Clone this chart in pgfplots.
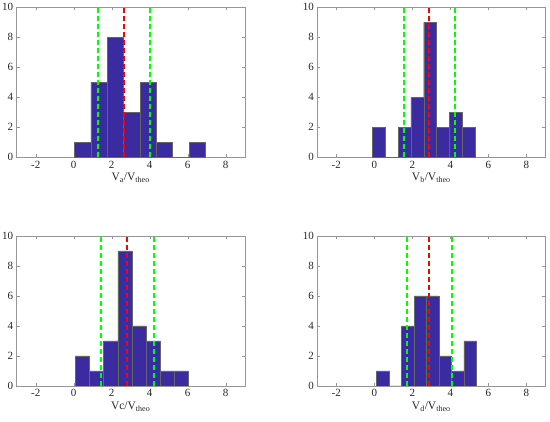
\documentclass[border=0pt]{standalone}
\usepackage{pgfplots}
\pgfplotsset{compat=1.18}
\usepackage{fontspec}
\setmainfont{Liberation Serif}
\definecolor{barblue}{RGB}{58,43,160}
\definecolor{axgray}{RGB}{38,38,38}
\definecolor{lingray}{RGB}{150,150,150}
\definecolor{mgreen}{RGB}{0,255,0}
\definecolor{mred}{RGB}{255,0,0}
\tikzset{
  redl/.style={draw=mred, line width=2pt, dash pattern=on 5pt off 3pt},
  greenl/.style={draw=mgreen, line width=2pt, dash pattern=on 5pt off 3pt},
}
\pgfplotsset{hstyle/.style={
  scale only axis, width=228pt, height=150pt, anchor=south west,
  xmin=-3, xmax=9, ymin=0, ymax=10,
  xtick={-2,0,...,8}, ytick={0,2,...,10},
  tick align=inside, major tick length=3pt,
  axis line style={draw=lingray}, tick style={draw=lingray},
  ticklabel style={font=\fontsize{11}{12}\selectfont, text=axgray},
  /pgf/number format/assume math mode=true,
  xlabel style={font=\fontsize{11.5}{12}\selectfont, text=axgray, yshift=2pt},
  },
  bars/.style={ybar interval, fill=barblue, draw=gray!80!black, line width=0.4pt},
}
\begin{document}
\begin{tikzpicture}
\path[use as bounding box] (0,0) rectangle (550pt,422pt);
% Panel a
\begin{axis}[hstyle, at={(16.7pt,264.7pt)}, xlabel={V\textsubscript{a}/V\textsubscript{theo}}]
\addplot[bars] coordinates {(0.05,1) (0.91,5) (1.77,8) (2.63,3) (3.49,5) (4.35,1) (5.21,0) (6.07,1) (6.93,0)};
\addplot[greenl] coordinates {(1.30,0) (1.30,10)};
\addplot[greenl] coordinates {(4.02,0) (4.02,10)};
\addplot[redl] coordinates {(2.65,0) (2.65,10)};
\end{axis}
% Panel b
\begin{axis}[hstyle, at={(317.3pt,264.7pt)}, xlabel={V\textsubscript{b}/V\textsubscript{theo}}]
\addplot[bars] coordinates {(-0.10,2) (0.58,0) (1.25,2) (1.93,4) (2.60,9) (3.28,2) (3.96,3) (4.63,2) (5.31,0)};
\addplot[greenl] coordinates {(1.56,0) (1.56,10)};
\addplot[greenl] coordinates {(4.23,0) (4.23,10)};
\addplot[redl] coordinates {(2.88,0) (2.88,10)};
\end{axis}
% Panel c
\begin{axis}[hstyle, at={(16.7pt,36pt)}, xlabel={Vc/V\textsubscript{theo}}]
\addplot[bars] coordinates {(0.09,2) (0.83,1) (1.57,3) (2.32,9) (3.06,4) (3.80,3) (4.54,1) (5.28,1) (6.02,0)};
\addplot[greenl] coordinates {(1.45,0) (1.45,10)};
\addplot[greenl] coordinates {(4.20,0) (4.20,10)};
\addplot[redl] coordinates {(2.82,0) (2.82,10)};
\end{axis}
% Panel d
\begin{axis}[hstyle, at={(317.3pt,36pt)}, xlabel={V\textsubscript{d}/V\textsubscript{theo}}]
\addplot[bars] coordinates {(0.12,1) (0.78,0) (1.43,4) (2.09,6) (2.74,6) (3.40,2) (4.06,1) (4.71,3) (5.37,0)};
\addplot[greenl] coordinates {(1.73,0) (1.73,10)};
\addplot[greenl] coordinates {(4.07,0) (4.07,10)};
\addplot[redl] coordinates {(2.88,0) (2.88,10)};
\end{axis}
\end{tikzpicture}
\end{document}
